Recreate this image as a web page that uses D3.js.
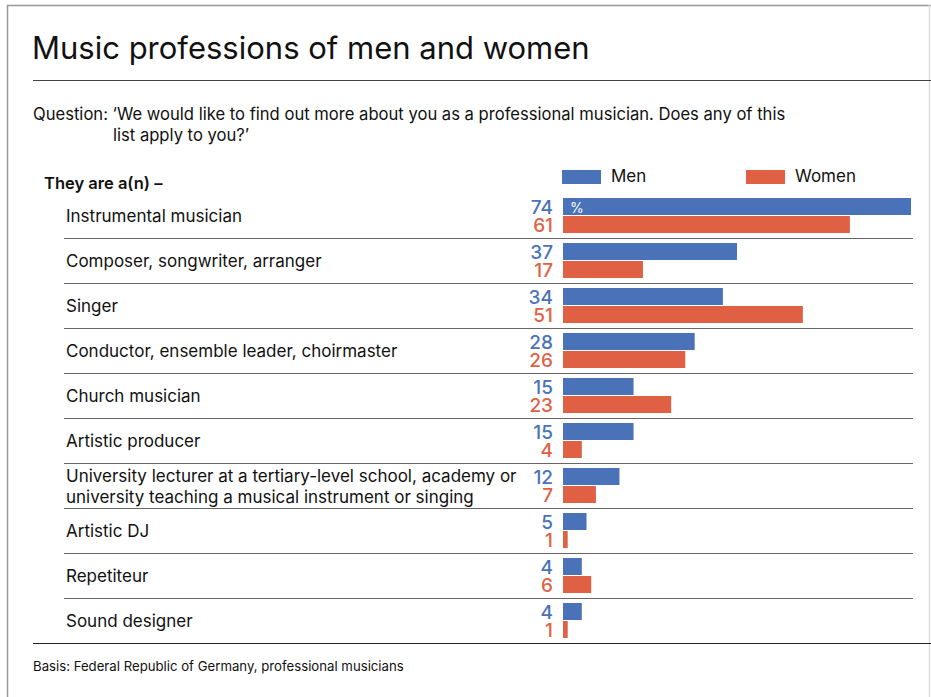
<!DOCTYPE html>
<html><head><meta charset="utf-8">
<script src="https://cdn.jsdelivr.net/npm/d3@7"></script>
<style>body{margin:0;background:#fff}svg{display:block}text{font-family:Inter,"Liberation Sans",Arial,sans-serif}</style>
</head><body>
<svg id="c" width="931" height="697"></svg>
<script>
const categories = [
  ["Instrumental musician"],
  ["Composer, songwriter, arranger"],
  ["Singer"],
  ["Conductor, ensemble leader, choirmaster"],
  ["Church musician"],
  ["Artistic producer"],
  ["University lecturer at a tertiary-level school, academy or","university teaching a musical instrument or singing"],
  ["Artistic DJ"],
  ["Repetiteur"],
  ["Sound designer"]
];
const men =   [74,37,34,28,15,15,12,5,4,4];
const women = [61,17,51,26,23,4,7,1,6,1];
const seriesNames = ["Men","Women"];
const colors = ["#4a72b8","#e06043"];

const svg = d3.select("#c");
// frame
svg.append("line").attr("x1",7.5).attr("x2",7.5).attr("y1",5).attr("y2",697).attr("stroke","#999").attr("stroke-width",1.5);
svg.append("line").attr("x1",7).attr("x2",931).attr("y1",5.5).attr("y2",5.5).attr("stroke","#999").attr("stroke-width",1.5);
svg.append("line").attr("x1",929.5).attr("x2",929.5).attr("y1",5).attr("y2",697).attr("stroke","#ddd").attr("stroke-width",1.5);

svg.append("text").attr("x",32).attr("y",59).attr("font-size",31).attr("fill","#111").text("Music professions of men and women");
svg.append("line").attr("x1",33).attr("x2",931).attr("y1",80.5).attr("y2",80.5).attr("stroke","#444").attr("stroke-width",1.2);
svg.append("text").attr("x",33).attr("y",120).attr("font-size",16.6).attr("fill","#111").text("Question:  \u2018We would like to find out more about you as a professional musician. Does any of this");
svg.append("text").attr("x",113).attr("y",141).attr("font-size",16.6).attr("fill","#111").text("list apply to you?\u2019");
svg.append("text").attr("x",44).attr("y",189).attr("font-size",16.5).attr("font-weight",600).attr("fill","#111").text("They are a(n) \u2013");

// legend
const legX = [562,746];
seriesNames.forEach((n,i)=>{
  svg.append("rect").attr("x",legX[i]).attr("y",170).attr("width",39).attr("height",14).attr("fill",colors[i]);
  svg.append("text").attr("x",legX[i]+49).attr("y",182).attr("font-size",17).attr("fill","#111").text(n);
});

const x = d3.scaleLinear().domain([0,74]).range([563,911]);
const y = d3.scaleBand().domain(d3.range(categories.length)).range([193,643]).padding(0);
const barH = 17;

const g = svg.append("g");
categories.forEach((lab,i)=>{
  const top = y(i);
  if(i<categories.length-1){
    g.append("line").attr("x1",64).attr("x2",913).attr("y1",top+45.5).attr("y2",top+45.5).attr("stroke","#666").attr("stroke-width",1.2);
  }
  const cy = top+22.5;
  if(lab.length===1){
    g.append("text").attr("x",66).attr("y",cy+6).attr("font-size",17).attr("fill","#111").text(lab[0]);
  } else {
    lab.forEach((l,k)=>g.append("text").attr("x",66).attr("y",cy-4+k*21).attr("font-size",17).attr("fill","#111").text(l));
  }
  [men[i],women[i]].forEach((v,s)=>{
    const by = top+5+s*(barH+1);
    g.append("rect").attr("x",x(0)).attr("y",by).attr("width",x(v)-x(0)).attr("height",barH).attr("fill",colors[s]);
    g.append("text").attr("x",553).attr("y",by+15.5).attr("text-anchor","end").attr("font-size",19).attr("font-weight",500).attr("fill",colors[s]).text(v);
  });
});
svg.append("text").attr("x",570).attr("y",213).attr("font-size",14).attr("fill","#fff").text("%");
svg.append("line").attr("x1",33).attr("x2",931).attr("y1",643.5).attr("y2",643.5).attr("stroke","#222").attr("stroke-width",1.2);
svg.append("text").attr("x",33).attr("y",671).attr("font-size",13.2).attr("fill","#111").text("Basis: Federal Republic of Germany, professional musicians");
</script>
</body></html>
